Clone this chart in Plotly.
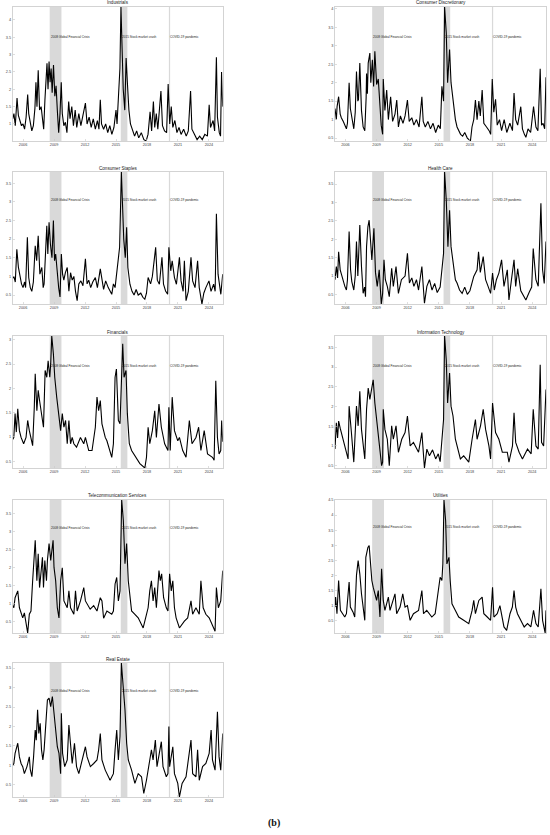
import plotly.graph_objects as go

# ---------------- data (year, volatility) ----------------
ind_years = [2005.0,2005.12,2005.25,2005.42,2005.55,2005.7,2005.85,2006.0,2006.15,2006.3,2006.45,2006.55,2006.7,2006.85,2007.0,2007.15,2007.25,2007.35,2007.47,2007.6,2007.75,2007.88,2008.0,2008.12,2008.22,2008.32,2008.42,2008.52,2008.62,2008.72,2008.82,2008.95,2009.08,2009.2,2009.32,2009.45,2009.58,2009.7,2009.8,2009.95,2010.1,2010.25,2010.42,2010.55,2010.72,2010.88,2011.05,2011.2,2011.4,2011.6,2011.8,2012.04,2012.2,2012.4,2012.6,2012.8,2013.0,2013.2,2013.35,2013.48,2013.6,2013.8,2014.0,2014.2,2014.4,2014.6,2014.8,2015.0,2015.1,2015.25,2015.38,2015.48,2015.58,2015.7,2015.85,2015.98,2016.1,2016.25,2016.4,2016.6,2016.8,2017.0,2017.2,2017.45,2017.7,2017.92,2018.1,2018.3,2018.45,2018.62,2018.75,2018.9,2019.05,2019.35,2019.5,2019.7,2019.9,2020.05,2020.2,2020.35,2020.5,2020.7,2020.9,2021.1,2021.3,2021.55,2021.8,2022.0,2022.22,2022.35,2022.6,2022.85,2023.1,2023.35,2023.6,2023.85,2024.02,2024.15,2024.4,2024.55,2024.72,2024.82,2025.0,2025.12,2025.22,2025.33]
ind_vals = [1.15,1.3,0.95,1.75,1.25,1.1,0.95,1.0,0.85,1.2,1.85,1.3,1.0,0.8,0.95,1.45,2.2,1.5,2.55,1.4,1.5,1.1,0.85,1.7,2.35,2.75,2.0,2.8,2.2,2.6,1.9,2.7,1.8,2.1,1.4,0.75,1.3,2.2,1.3,0.95,1.05,0.75,1.65,1.15,1.5,0.95,1.4,0.9,1.3,0.95,1.25,1.6,1.0,1.2,0.9,1.15,0.85,1.1,0.85,1.7,1.0,0.85,1.0,0.75,0.95,0.7,0.9,1.4,1.0,2.15,2.6,4.37,3.3,2.0,1.4,2.9,2.2,1.4,1.0,0.85,0.65,0.8,0.6,0.75,0.55,0.51,0.7,1.35,0.8,1.65,0.9,1.3,0.85,1.95,0.95,0.8,0.75,2.15,1.0,1.5,0.9,1.1,0.75,0.9,0.7,0.85,0.65,0.8,1.95,0.85,0.7,0.55,0.65,0.55,0.7,0.65,1.55,0.9,1.1,0.8,2.92,1.2,0.75,0.65,2.5,1.5]

cd_years = [2005.0,2005.13,2005.2,2005.35,2005.5,2005.61,2005.8,2006.1,2006.2,2006.36,2006.48,2006.58,2006.81,2006.95,2007.07,2007.2,2007.26,2007.39,2007.55,2007.71,2007.87,2008.0,2008.04,2008.12,2008.2,2008.36,2008.45,2008.6,2008.72,2008.84,2009.01,2009.17,2009.33,2009.45,2009.59,2009.65,2009.81,2009.98,2010.14,2010.36,2010.55,2010.78,2010.95,2011.11,2011.3,2011.55,2011.75,2011.98,2012.15,2012.4,2012.6,2012.85,2013.1,2013.37,2013.5,2013.7,2013.95,2014.2,2014.45,2014.7,2014.95,2015.15,2015.3,2015.46,2015.56,2015.72,2015.85,2016.04,2016.18,2016.43,2016.6,2016.76,2016.95,2017.1,2017.3,2017.5,2017.75,2018.05,2018.2,2018.37,2018.53,2018.69,2018.86,2019.0,2019.18,2019.34,2019.6,2019.85,2020.0,2020.15,2020.3,2020.47,2020.63,2020.85,2021.05,2021.3,2021.55,2021.85,2022.1,2022.25,2022.41,2022.6,2022.9,2023.06,2023.25,2023.39,2023.6,2023.85,2024.13,2024.36,2024.55,2024.77,2024.9,2025.05,2025.2,2025.33]
cd_vals = [1.3,1.0,1.35,1.62,1.15,1.05,0.95,0.75,0.9,2.0,1.3,1.1,0.75,1.2,2.3,1.5,1.55,2.53,1.25,0.8,0.7,1.6,2.25,1.7,2.53,2.8,2.0,2.62,1.9,2.85,1.95,2.1,1.2,0.85,0.6,2.1,1.25,1.8,1.0,1.62,0.95,1.15,1.53,0.8,1.1,0.9,1.1,1.53,0.95,1.05,0.85,1.0,0.8,1.62,0.95,0.8,0.95,0.75,0.9,0.65,0.85,0.75,1.9,1.5,4.05,3.35,2.0,2.9,2.0,1.35,1.0,0.8,0.7,0.6,0.55,0.65,0.5,0.42,0.8,1.0,1.53,1.0,1.5,1.1,1.8,0.9,0.8,0.7,0.6,2.1,1.2,1.55,0.85,1.0,0.7,1.0,0.65,0.9,0.7,1.72,1.0,0.85,1.35,0.75,0.6,0.52,0.75,0.65,1.35,0.8,0.7,2.38,0.85,0.9,0.75,2.15]

cs_years = [2005.0,2005.11,2005.25,2005.4,2005.55,2005.7,2005.85,2006.0,2006.15,2006.25,2006.42,2006.55,2006.7,2006.85,2007.0,2007.18,2007.32,2007.47,2007.63,2007.82,2007.95,2008.04,2008.2,2008.3,2008.4,2008.52,2008.65,2008.8,2008.94,2009.05,2009.16,2009.32,2009.45,2009.58,2009.71,2009.83,2009.95,2010.1,2010.28,2010.44,2010.6,2010.76,2010.92,2011.08,2011.24,2011.4,2011.6,2011.8,2012.04,2012.2,2012.36,2012.55,2012.75,2013.0,2013.2,2013.48,2013.64,2013.8,2014.0,2014.25,2014.59,2014.75,2014.91,2015.15,2015.35,2015.52,2015.62,2015.75,2015.9,2016.03,2016.15,2016.35,2016.55,2016.75,2016.95,2017.15,2017.4,2017.6,2017.79,2017.95,2018.11,2018.35,2018.52,2018.84,2019.0,2019.2,2019.45,2019.6,2019.8,2020.0,2020.12,2020.3,2020.44,2020.66,2020.85,2021.14,2021.3,2021.5,2021.62,2021.78,2022.0,2022.26,2022.42,2022.65,2022.9,2023.06,2023.32,2023.5,2023.7,2024.0,2024.2,2024.45,2024.6,2024.72,2024.88,2025.05,2025.15,2025.33]
cs_vals = [0.95,1.0,0.85,1.73,1.25,0.97,0.8,0.7,0.85,0.7,2.05,0.97,0.7,0.6,0.85,1.82,1.42,2.09,1.06,1.24,0.7,0.8,1.96,2.36,1.6,2.45,1.87,1.5,2.5,1.42,1.6,1.06,0.7,0.45,1.6,1.06,0.9,1.1,1.24,0.6,1.1,0.9,1.0,0.6,0.35,0.8,0.88,0.75,1.47,0.8,0.9,0.7,0.85,0.97,0.7,1.2,0.88,0.65,0.88,0.7,0.52,0.8,0.7,1.24,1.78,3.8,2.77,2.0,1.5,2.32,1.24,0.79,0.6,0.5,0.65,0.5,0.55,0.44,0.39,0.55,0.97,0.8,1.0,1.78,0.9,0.79,1.51,0.79,0.61,0.52,1.78,1.15,1.42,0.97,0.79,1.51,0.88,0.6,1.42,0.35,0.6,1.51,0.88,0.7,1.42,0.7,0.26,0.55,0.7,0.88,0.6,0.79,0.6,2.68,1.06,0.7,0.52,1.06]

hc_years = [2005.0,2005.13,2005.25,2005.35,2005.5,2005.65,2005.8,2005.95,2006.1,2006.2,2006.36,2006.5,2006.62,2006.81,2006.95,2007.07,2007.2,2007.39,2007.55,2007.71,2007.85,2007.94,2008.04,2008.17,2008.29,2008.42,2008.55,2008.75,2008.9,2009.07,2009.26,2009.46,2009.59,2009.72,2009.85,2010.04,2010.23,2010.46,2010.62,2010.88,2011.11,2011.4,2011.75,2011.98,2012.17,2012.4,2012.6,2012.85,2013.05,2013.37,2013.62,2013.85,2014.1,2014.35,2014.6,2014.85,2015.13,2015.3,2015.46,2015.56,2015.72,2015.88,2016.04,2016.18,2016.43,2016.6,2016.76,2017.0,2017.25,2017.5,2017.75,2018.0,2018.37,2018.69,2018.83,2019.0,2019.28,2019.51,2019.75,2019.99,2020.18,2020.35,2020.55,2020.79,2021.05,2021.28,2021.6,2021.76,2022.0,2022.25,2022.41,2022.6,2022.9,2023.1,2023.39,2023.7,2023.95,2024.1,2024.36,2024.58,2024.84,2025.0,2025.16,2025.33]
hc_vals = [0.9,1.26,0.95,1.66,1.17,1.0,0.85,0.72,0.62,0.9,2.21,1.17,0.85,0.62,1.0,1.94,1.0,2.39,1.26,0.53,0.7,0.44,1.8,2.34,2.52,1.89,1.44,2.3,1.1,0.72,1.17,0.24,0.53,1.44,0.9,0.72,0.44,1.21,0.72,1.26,0.53,0.9,1.0,1.62,0.81,0.95,0.72,0.9,0.62,1.26,0.26,0.72,0.9,0.62,0.8,0.55,0.7,1.17,1.62,3.83,3.07,1.8,2.79,1.8,1.26,0.9,0.81,0.62,0.53,0.7,0.5,0.6,0.99,1.17,1.66,1.1,1.53,0.9,0.72,0.53,1.08,0.62,0.9,1.08,1.44,0.72,1.17,0.35,0.9,1.44,0.72,1.2,0.6,0.5,0.35,0.55,0.7,1.75,0.9,0.72,2.98,1.17,0.8,1.94]

fin_years = [2005.0,2005.11,2005.23,2005.35,2005.49,2005.65,2005.81,2006.06,2006.29,2006.45,2006.61,2006.77,2006.93,2007.09,2007.18,2007.34,2007.47,2007.6,2007.79,2007.98,2008.14,2008.3,2008.43,2008.59,2008.68,2008.78,2008.94,2009.07,2009.26,2009.39,2009.51,2009.64,2009.8,2009.96,2010.12,2010.28,2010.44,2010.6,2010.76,2010.92,2011.18,2011.56,2011.88,2012.04,2012.36,2012.68,2013.0,2013.16,2013.32,2013.48,2013.64,2013.96,2014.12,2014.43,2014.59,2014.75,2014.91,2015.04,2015.23,2015.39,2015.55,2015.65,2015.78,2015.97,2016.1,2016.29,2016.51,2016.83,2017.31,2017.79,2017.95,2018.11,2018.27,2018.52,2018.75,2018.91,2019.16,2019.39,2019.71,2020.03,2020.12,2020.25,2020.44,2020.66,2020.98,2021.14,2021.46,2021.78,2022.1,2022.36,2022.74,2023.0,2023.22,2023.54,2023.86,2024.34,2024.5,2024.66,2024.82,2024.98,2025.14,2025.23,2025.33]
fin_vals = [0.95,0.99,1.48,1.1,1.58,1.13,0.99,0.86,0.99,1.34,1.13,0.99,0.82,1.61,2.3,1.54,1.96,1.75,1.41,1.2,2.37,2.23,2.57,2.23,2.51,3.08,2.71,2.23,1.82,1.54,1.34,1.13,1.48,1.2,1.34,0.86,1.34,0.86,0.99,0.86,0.79,0.99,0.86,0.99,0.72,0.72,1.2,1.82,1.54,1.75,1.27,0.99,0.92,0.72,0.58,0.86,2.23,2.4,1.34,1.27,2.37,2.92,2.23,2.37,1.48,0.86,0.72,0.62,0.45,0.36,0.58,1.2,0.86,1.13,1.54,0.99,1.68,1.2,0.86,0.72,1.61,0.72,1.82,1.13,0.92,0.99,0.72,0.58,1.34,0.86,0.99,1.2,0.72,1.13,0.65,0.58,0.52,2.16,0.99,0.65,0.72,1.34,0.9]

it_years = [2005.0,2005.13,2005.25,2005.35,2005.5,2005.61,2005.77,2005.95,2006.1,2006.26,2006.36,2006.5,2006.58,2006.81,2006.95,2007.07,2007.23,2007.39,2007.55,2007.71,2007.87,2008.04,2008.2,2008.36,2008.52,2008.68,2008.84,2009.01,2009.17,2009.33,2009.49,2009.59,2009.65,2009.81,2010.04,2010.23,2010.46,2010.62,2010.88,2011.11,2011.43,2011.75,2011.98,2012.24,2012.56,2013.05,2013.37,2013.62,2013.85,2014.1,2014.4,2014.7,2014.95,2015.13,2015.3,2015.46,2015.56,2015.72,2015.85,2016.04,2016.18,2016.37,2016.6,2016.92,2017.08,2017.4,2017.89,2018.21,2018.53,2018.69,2019.02,2019.28,2019.51,2019.83,2019.99,2020.18,2020.47,2020.79,2021.12,2021.6,2021.76,2022.1,2022.25,2022.41,2022.74,2023.06,2023.55,2023.9,2024.1,2024.36,2024.58,2024.77,2024.9,2025.1,2025.2,2025.33]
it_vals = [0.92,1.59,1.2,1.63,1.45,1.34,1.17,1.0,0.84,0.67,2.01,1.45,1.34,0.59,1.2,2.01,1.51,2.39,1.42,1.09,0.67,1.93,2.47,2.18,2.43,2.68,2.09,1.67,1.42,1.0,0.5,0.59,1.93,1.42,1.17,0.5,1.51,1.17,1.51,0.84,1.17,1.34,1.76,1.0,1.09,0.84,1.34,0.44,0.92,0.75,0.9,0.67,0.8,0.6,1.25,1.67,3.79,3.18,2.09,2.85,2.01,1.76,1.17,0.84,0.67,0.75,0.59,1.17,1.67,1.17,1.51,1.93,1.42,1.0,0.67,2.09,1.34,1.17,0.84,0.84,0.59,1.0,1.84,1.09,0.84,0.67,0.92,0.8,1.93,1.0,0.92,3.06,1.09,1.0,1.51,2.43]

tel_years = [2005.0,2005.11,2005.23,2005.49,2005.65,2005.97,2006.13,2006.29,2006.45,2006.61,2006.77,2006.93,2007.09,2007.18,2007.34,2007.47,2007.6,2007.73,2007.88,2007.98,2008.11,2008.27,2008.36,2008.52,2008.68,2008.91,2009.0,2009.16,2009.32,2009.48,2009.64,2009.8,2009.96,2010.28,2010.44,2010.6,2010.92,2011.08,2011.24,2011.56,2011.88,2012.04,2012.5,2012.84,2013.16,2013.48,2013.64,2013.8,2014.12,2014.59,2014.75,2014.91,2015.07,2015.23,2015.39,2015.55,2015.71,2015.87,2016.03,2016.19,2016.35,2016.51,2016.83,2017.15,2017.63,2017.79,2018.11,2018.27,2018.43,2018.59,2018.75,2018.91,2019.16,2019.29,2019.42,2019.61,2019.87,2020.03,2020.19,2020.35,2020.5,2020.66,2020.82,2021.14,2021.62,2021.94,2022.26,2022.42,2022.74,2023.06,2023.22,2023.44,2023.7,2024.02,2024.5,2024.59,2024.72,2024.91,2025.14,2025.33]
tel_vals = [0.95,0.89,1.17,1.36,0.89,0.61,0.75,0.52,0.19,0.71,0.8,1.64,2.39,2.76,1.64,2.39,1.45,1.83,2.29,1.45,2.2,1.64,2.2,2.67,2.2,2.76,2.01,1.64,0.89,0.61,1.64,2.0,1.08,0.89,1.36,0.89,0.71,1.36,0.8,1.08,1.45,1.08,0.85,0.95,0.8,1.17,1.08,0.6,0.8,0.71,0.8,1.55,1.73,1.08,1.36,3.88,3.32,2.11,2.67,1.64,1.17,0.8,0.71,0.61,0.33,0.52,0.89,1.36,1.64,1.08,1.45,0.89,1.92,1.64,1.83,1.17,0.89,0.8,1.83,1.36,1.64,0.89,0.61,0.33,0.52,0.61,1.08,0.71,0.89,0.71,1.64,0.89,0.71,0.61,0.33,0.24,1.45,0.89,1.08,1.92]

ut_years = [2005.0,2005.06,2005.19,2005.35,2005.52,2005.71,2005.94,2006.1,2006.36,2006.48,2006.74,2006.9,2007.07,2007.23,2007.39,2007.55,2007.71,2007.87,2007.97,2008.17,2008.29,2008.42,2008.55,2008.68,2008.84,2009.01,2009.17,2009.33,2009.49,2009.65,2009.81,2010.14,2010.3,2010.78,2010.94,2011.27,2011.53,2011.75,2011.98,2012.24,2012.56,2013.05,2013.37,2013.53,2013.84,2014.33,2014.65,2014.81,2015.13,2015.3,2015.39,2015.5,2015.66,2015.78,2015.98,2016.1,2016.27,2016.6,2016.92,2017.4,2017.89,2018.21,2018.37,2018.53,2018.86,2019.18,2019.34,2019.67,2019.99,2020.18,2020.31,2020.63,2020.89,2021.28,2021.54,2021.86,2022.09,2022.25,2022.41,2022.58,2022.9,2023.23,2023.55,2023.87,2024.13,2024.36,2024.58,2024.84,2025.0,2025.16,2025.25,2025.33]
ut_vals = [0.95,1.28,0.73,1.83,0.84,0.73,0.62,0.73,1.78,0.95,0.78,0.62,2.0,2.49,2.05,1.39,0.95,0.51,2.6,2.93,2.99,2.49,1.83,1.61,1.39,1.17,1.5,0.62,2.22,1.17,0.84,1.28,0.84,1.39,0.73,0.95,1.39,0.95,1.0,0.51,0.73,0.84,1.5,0.73,0.84,0.62,0.73,1.17,1.94,1.83,2.38,4.5,3.81,2.38,2.6,1.83,1.06,0.84,0.62,0.51,0.4,0.84,1.17,0.73,1.17,1.28,0.73,0.62,0.51,1.61,0.62,0.73,1.0,0.29,0.18,0.73,0.95,1.5,0.95,0.73,0.51,0.29,0.4,0.29,0.84,0.4,0.29,1.56,0.51,0.29,0.09,0.84]

re_years = [2005.0,2005.11,2005.23,2005.49,2005.65,2005.81,2005.97,2006.13,2006.38,2006.61,2006.7,2006.86,2007.02,2007.18,2007.28,2007.41,2007.53,2007.66,2007.79,2007.92,2008.04,2008.2,2008.36,2008.52,2008.68,2008.84,2009.0,2009.16,2009.32,2009.48,2009.64,2009.71,2009.83,2010.03,2010.28,2010.44,2010.6,2010.76,2010.98,2011.18,2011.4,2011.56,2012.04,2012.2,2012.52,2012.84,2013.16,2013.32,2013.48,2013.64,2013.96,2014.43,2014.75,2014.91,2015.07,2015.23,2015.39,2015.52,2015.71,2015.87,2016.03,2016.19,2016.51,2016.83,2017.15,2017.47,2017.69,2017.95,2018.27,2018.43,2018.59,2018.81,2018.97,2019.23,2019.39,2019.55,2019.87,2020.03,2020.12,2020.19,2020.5,2020.66,2020.98,2021.14,2021.4,2021.78,2022.26,2022.42,2022.74,2022.9,2023.06,2023.38,2023.7,2024.02,2024.21,2024.34,2024.59,2024.82,2024.98,2025.14,2025.33]
re_vals = [1.0,1.05,1.31,1.57,1.22,1.05,0.97,0.79,0.97,1.22,0.9,0.71,1.22,1.91,1.65,2.43,1.82,2.08,1.4,1.14,1.4,1.97,2.68,2.73,2.51,2.77,2.34,1.82,1.48,1.31,0.79,2.34,1.31,0.97,1.14,2.04,1.4,1.05,1.57,0.97,0.79,0.97,1.48,1.22,0.97,1.05,1.14,1.4,1.82,1.14,0.88,0.62,0.79,1.4,1.91,1.14,1.75,3.63,2.94,2.43,1.57,1.14,0.88,0.54,0.79,0.71,0.28,0.62,1.14,1.4,1.14,1.65,0.97,1.31,1.61,0.97,0.71,0.79,2.0,0.97,1.48,0.79,0.54,0.19,0.54,0.71,1.65,0.79,0.71,1.4,0.62,0.97,1.05,1.31,1.91,1.14,0.88,2.38,1.22,0.88,1.82]

sector_names = ["Industrials", "Consumer Discretionary", "Consumer Staples", "Health Care",
                "Financials", "Information Technology", "Telecommunication Services",
                "Utilities", "Real Estate"]
series = [(ind_years, ind_vals), (cd_years, cd_vals), (cs_years, cs_vals), (hc_years, hc_vals),
          (fin_years, fin_vals), (it_years, it_vals), (tel_years, tel_vals),
          (ut_years, ut_vals), (re_years, re_vals)]

event_labels = ["2008 Global Financial Crisis", "2015 Stock market crash", "COVID-19 pandemic"]
event_start = [2008.58, 2015.46, 2020.12]
event_end = [2009.72, 2016.10, 2020.24]

year_ticks = [2006, 2009, 2012, 2015, 2018, 2021, 2024]
x_range = [2005.0, 2025.33]

# ---------------- layout geometry ----------------
W, H = 550, 835
col_px = [(12.7, 222.7), (335.0, 546.0)]
row_px = [(7, 141), (172, 304), (336, 468), (500, 633), (663, 797)]

FONT = "Liberation Sans, Arial, sans-serif"
fig = go.Figure()
layout = {}
shapes = []
annotations = []

for i, (name, (xs, ys)) in enumerate(zip(sector_names, series)):
    n = i + 1
    r, c = divmod(i, 2)
    x0p, x1p = col_px[c]
    t, b = row_px[r]
    xd = [x0p / W, x1p / W]
    yd = [1 - b / H, 1 - t / H]
    xa = "x" if n == 1 else f"x{n}"
    ya = "y" if n == 1 else f"y{n}"
    ymin, ymax = min(ys), max(ys)

    fig.add_trace(go.Scatter(x=xs, y=ys, mode="lines", xaxis=xa, yaxis=ya,
                             line=dict(color="black", width=1.1), showlegend=False,
                             hoverinfo="skip"))
    axstyle = dict(showgrid=False, zeroline=False, showline=True, mirror=True,
                   linecolor="#c8c8c8", linewidth=0.8, ticks="inside", ticklen=2,
                   tickcolor="#c8c8c8", tickwidth=0.6, automargin=False,
                   tickfont=dict(size=3.8, color="#444", family=FONT))
    layout["xaxis" if n == 1 else f"xaxis{n}"] = dict(
        domain=xd, range=x_range, anchor=ya, tickmode="array",
        tickvals=year_ticks, ticktext=[str(v) for v in year_ticks], **axstyle)
    layout["yaxis" if n == 1 else f"yaxis{n}"] = dict(
        domain=yd, range=[ymin, ymax], anchor=xa, dtick=0.5, tick0=0, **axstyle)

    for k in range(3):
        shapes.append(dict(type="rect", xref=xa, yref=f"{ya} domain",
                           x0=event_start[k], x1=event_end[k], y0=0, y1=1,
                           fillcolor="#d9d9d9", line=dict(width=0), layer="below"))
        annotations.append(dict(x=event_start[k], y=0.8 * ymax, xref=xa, yref=ya,
                                text=event_labels[k], showarrow=False, xanchor="left",
                                yanchor="middle", xshift=-1,
                                font=dict(size=3.1, color="#222", family=FONT)))
    annotations.append(dict(x=(xd[0] + xd[1]) / 2, y=yd[1], xref="paper", yref="paper",
                            text=name, showarrow=False, xanchor="center", yanchor="bottom",
                            yshift=-0.5, font=dict(size=4.6, color="#222", family=FONT)))

annotations.append(dict(x=274 / W, y=1 - 823 / H, xref="paper", yref="paper", text="<b>(b)</b>",
                        showarrow=False, xanchor="center", yanchor="middle",
                        font=dict(size=10, color="#111", family="Liberation Serif, serif")))

fig.update_layout(width=W, height=H, margin=dict(l=0, r=0, t=0, b=0, autoexpand=False),
                  paper_bgcolor="white", plot_bgcolor="white",
                  shapes=shapes, annotations=annotations, **layout)
fig.write_html("out.html", config={"displayModeBar": False, "staticPlot": True},
               post_script="document.body.style.margin='0';document.body.style.overflow='hidden';")
